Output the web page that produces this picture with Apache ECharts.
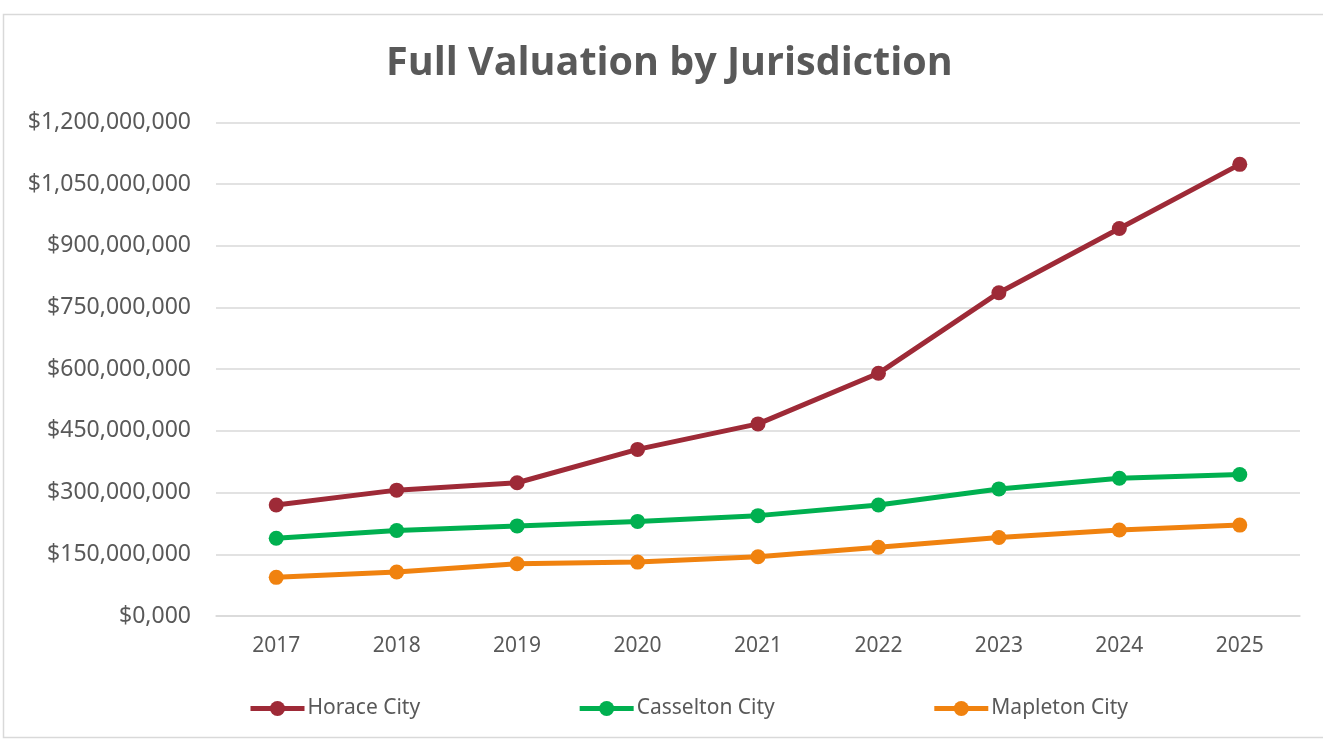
<!DOCTYPE html>
<html><head><meta charset="utf-8">
<script src="https://cdn.jsdelivr.net/npm/echarts@6/dist/echarts.min.js"></script>
<style>html,body{margin:0;padding:0;background:#fff}#c{width:1323px;height:741px}</style>
</head><body><div id="c"></div>
<script>
const years = ['2017','2018','2019','2020','2021','2022','2023','2024','2025'];
const horace = [270000000, 306000000, 324000000, 405000000, 467000000, 590000000, 786000000, 942000000, 1098000000];
const casselton = [189000000, 208000000, 219000000, 230000000, 244000000, 270000000, 309000000, 335000000, 344000000];
const mapleton = [94000000, 107000000, 127000000, 131000000, 144000000, 167000000, 191000000, 209000000, 221000000];
const seriesNames = ['Horace City','Casselton City','Mapleton City'];
const colors = ['#9e2a37','#00b050','#f0820f'];

const font = '"Noto Sans", sans-serif';
function fmt(v){
  if (v === 0) return '$0,000';
  return '$' + String(Math.round(v)).replace(/\B(?=(\d{3})+(?!\d))/g, ',');
}
const chart = echarts.init(document.getElementById('c'));
const data = [horace, casselton, mapleton];
chart.setOption({
  animation:false,
  color: colors,
  title:{text:'Full Valuation by Jurisdiction', left:386, top:44, padding:0,
    textStyle:{fontFamily:'"Open Sans", sans-serif', fontWeight:'bold', fontSize:39.5, color:'#595959'}},
  graphic:[{type:'rect', shape:{x:3.5,y:14.5,width:1330,height:723}, style:{fill:'none', stroke:'#d9d9d9', lineWidth:1.5}, silent:true, z:-10}],
  legend:{bottom:22, left:248, padding:0, itemGap:157, itemWidth:54, itemHeight:19,
    lineStyle:{width:5},
    textStyle:{fontFamily:font, fontSize:21, color:'#595959', padding:[0,0,0,-2]},
    data: seriesNames},
  grid:{left:216, right:23, top:122.4, bottom:125},
  xAxis:{type:'category', data:years, boundaryGap:true,
    axisLine:{lineStyle:{color:'#d9d9d9', width:1.5}}, axisTick:{show:false},
    axisLabel:{fontFamily:font, fontSize:21, color:'#595959', margin:20}},
  yAxis:{type:'value', min:0, max:1200000000, interval:150000000,
    axisLine:{show:false}, axisTick:{show:false},
    splitLine:{lineStyle:{color:'#d9d9d9', width:1.5}},
    axisLabel:{formatter:fmt, fontFamily:font, fontSize:23, color:'#595959', margin:25}},
  series: seriesNames.map((n,i)=>({name:n, type:'line', data:data[i], symbol:'circle', symbolSize:15,
    lineStyle:{width:5, color:colors[i]}, itemStyle:{color:colors[i]}}))
});
</script></body></html>
